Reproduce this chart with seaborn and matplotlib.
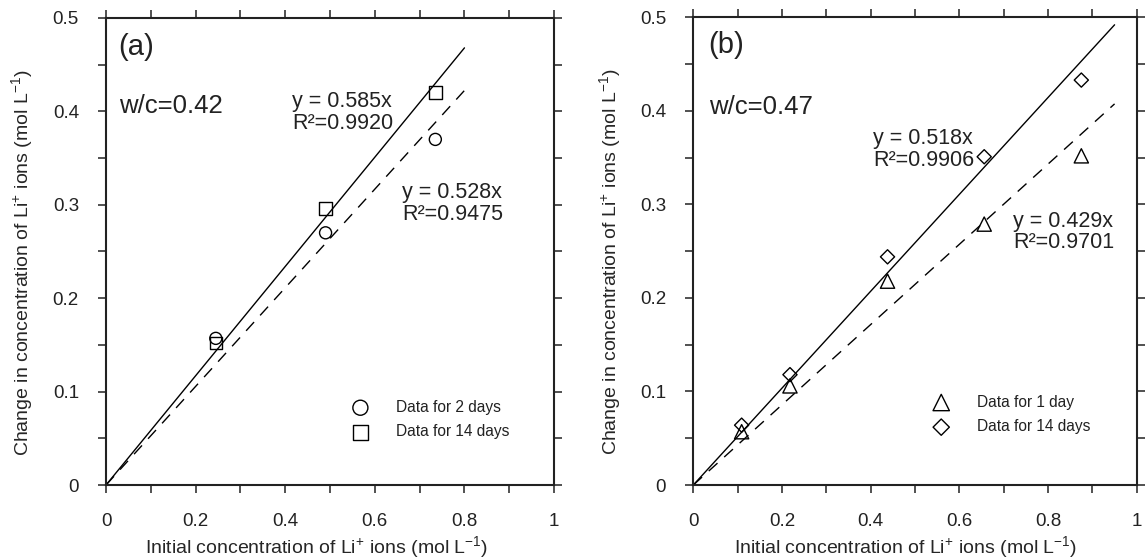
import numpy as np
import pandas as pd
import matplotlib
matplotlib.use("Agg")
import matplotlib.pyplot as plt
import seaborn as sns
from matplotlib.ticker import MultipleLocator, FuncFormatter

# ---------------- data ----------------
a_x = [0.245, 0.49, 0.735]
a_2days = [0.157, 0.270, 0.370]
a_14days = [0.152, 0.296, 0.420]
a_slopes = [0.585, 0.528]          # solid (14 days), dashed (2 days)
a_fit_end = 0.8
a_eq_text = ["y = 0.585x\nR²=0.9920", "y = 0.528x\nR²=0.9475"]

b_x = [0.109, 0.218, 0.438, 0.656, 0.875]
b_1day = [0.057, 0.106, 0.218, 0.279, 0.352]
b_14days = [0.064, 0.118, 0.244, 0.351, 0.433]
b_slopes = [0.518, 0.429]          # solid (14 days), dashed (1 day)
b_fit_end = 0.95
b_eq_text = ["y = 0.518x\nR²=0.9906", "y = 0.429x\nR²=0.9701"]

xlabel = r"Initial concentration of Li$^{+}$ ions (mol L$^{-1}$)"
ylabel = r"Change in concentration of Li$^{+}$ ions (mol L$^{-1}$)"

# ---------------- style ----------------
sns.set_style("ticks")
plt.rcParams["font.family"] = ["Liberation Sans", "DejaVu Sans"]
plt.rcParams["mathtext.fontset"] = "custom"
plt.rcParams["mathtext.rm"] = "Liberation Sans"
plt.rcParams["mathtext.it"] = "Liberation Sans:italic"
plt.rcParams["mathtext.bf"] = "Liberation Sans:bold"
plt.rcParams["mathtext.default"] = "regular"
plt.rcParams["axes.edgecolor"] = "#222222"
plt.rcParams["text.color"] = "#222222"

fig = plt.figure(figsize=(11.45, 5.6), dpi=100)
ax_a = fig.add_axes([0.0926, 0.1339, 0.3913, 0.834])
ax_b = fig.add_axes([0.6055, 0.1339, 0.3873, 0.835])

fmt = FuncFormatter(lambda v, p: f"{v:g}")


def style_axes(ax, xlab_x):
    ax.set_xlim(0, 1)
    ax.set_ylim(0, 0.5)
    ax.xaxis.set_major_locator(MultipleLocator(0.2))
    ax.xaxis.set_minor_locator(MultipleLocator(0.1))
    ax.yaxis.set_major_locator(MultipleLocator(0.1))
    ax.yaxis.set_minor_locator(MultipleLocator(0.05))
    ax.xaxis.set_major_formatter(fmt)
    ax.yaxis.set_major_formatter(fmt)
    ax.tick_params(which="both", direction="out", length=6, width=1.1,
                   color="#222222", top=True, right=True,
                   labeltop=False, labelright=False)
    ax.tick_params(axis="x", which="major", labelsize=13.5, pad=14,
                   labelcolor="#222222")
    ax.tick_params(axis="y", which="major", labelsize=13.5, pad=13.5,
                   labelcolor="#222222")
    for s in ax.spines.values():
        s.set_visible(True)
        s.set_linewidth(1.5)
    ax.set_xlabel(xlabel, fontsize=14)
    ax.set_ylabel(ylabel, fontsize=14)
    ax.xaxis.set_label_coords(xlab_x, -0.106)
    ax.yaxis.set_label_coords(-0.158, 0.477)


def fit_lines(ax, slopes, xend):
    xs = [0.0, xend]
    sns.lineplot(x=xs, y=[slopes[0] * v for v in xs], ax=ax, color="black",
                 linewidth=1.0, linestyle="-")
    sns.lineplot(x=xs, y=[slopes[1] * v for v in xs], ax=ax, color="black",
                 linewidth=1.0, linestyle=(0, (8.5, 6.5)))


# ---------------- panel (a) ----------------
fit_lines(ax_a, a_slopes, a_fit_end)
sns.scatterplot(x=a_x, y=a_2days, ax=ax_a, marker="o", s=75,
                facecolor="none", edgecolor="black", linewidth=1.0,
                label="Data for 2 days", zorder=3)
sns.scatterplot(x=a_x, y=a_14days, ax=ax_a, marker="s", s=80,
                facecolor="none", edgecolor="black", linewidth=1.0,
                label="Data for 14 days", zorder=3)
style_axes(ax_a, 0.471)
ax_a.text(0.027, 0.469, "(a)", fontsize=21, va="center", ha="left")
ax_a.text(0.03, 0.406, "w/c=0.42", fontsize=18.5, va="center", ha="left")
ax_a.text(0.416, 0.399, a_eq_text[0], fontsize=15.5, va="center", ha="left",
          linespacing=1.05)
ax_a.text(0.661, 0.301, a_eq_text[1], fontsize=15.5, va="center", ha="left",
          linespacing=1.05)
ax_a.legend(loc="center left", bbox_to_anchor=(0.533, 0.14), frameon=False,
            fontsize=11.2, borderpad=0, borderaxespad=0, handletextpad=1.3,
            labelspacing=0.62, markerscale=1.25)

# ---------------- panel (b) ----------------
fit_lines(ax_b, b_slopes, b_fit_end)
sns.scatterplot(x=b_x, y=b_1day, ax=ax_b, marker="^", s=105,
                facecolor="none", edgecolor="black", linewidth=1.0,
                label="Data for 1 day", zorder=3)
sns.scatterplot(x=b_x, y=b_14days, ax=ax_b, marker="D", s=52,
                facecolor="none", edgecolor="black", linewidth=1.0,
                label="Data for 14 days", zorder=3)
style_axes(ax_b, 0.478)
ax_b.text(0.033, 0.470, "(b)", fontsize=21, va="center", ha="left")
ax_b.text(0.036, 0.404, "w/c=0.47", fontsize=18.5, va="center", ha="left")
ax_b.text(0.406, 0.3585, b_eq_text[0], fontsize=15.5, va="center", ha="left",
          linespacing=1.05)
ax_b.text(0.721, 0.2705, b_eq_text[1], fontsize=15.5, va="center", ha="left",
          linespacing=1.05)
ax_b.legend(loc="center left", bbox_to_anchor=(0.524, 0.151), frameon=False,
            fontsize=11.2, borderpad=0, borderaxespad=0, handletextpad=1.3,
            labelspacing=0.62, markerscale=1.15)

fig.savefig("out.png", dpi=100)
